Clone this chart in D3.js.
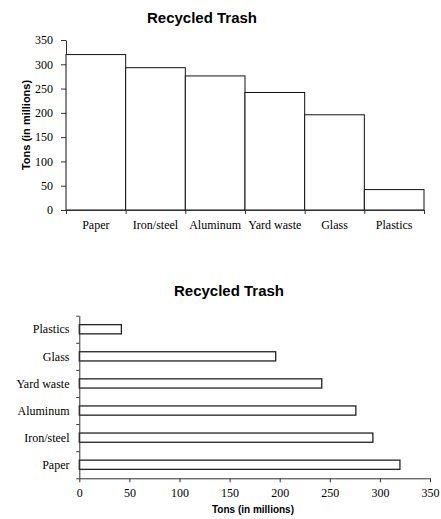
<!DOCTYPE html>
<html>
<head>
<meta charset="utf-8">
<script src="https://cdn.jsdelivr.net/npm/d3@7"></script>
<style>
  body { margin: 0; background: #fff; }
  svg { display: block; }
  .tick text { font-family: "Liberation Serif", "Times New Roman", serif; font-size: 12px; fill: #000; }
  .title { font-family: "Liberation Sans", Arial, sans-serif; font-weight: bold; font-size: 15px; }
  .axis-title { font-family: "Liberation Sans", Arial, sans-serif; font-weight: bold; }
</style>
</head>
<body>
<svg width="441" height="519"></svg>
<script>
var categories = ["Paper", "Iron/steel", "Aluminum", "Yard waste", "Glass", "Plastics"];
var tons = [320, 293, 276, 242, 196, 42];
var valueTicks = [0, 50, 100, 150, 200, 250, 300, 350];

var svg = d3.select("svg");
var data = categories.map(function (c, i) { return { name: c, value: tons[i] }; });

// ---- top: vertical bars ----
var x1 = d3.scaleBand().domain(categories).range([66, 424]).padding(0);
var y1 = d3.scaleLinear().domain([0, 350]).range([210, 40]);

svg.append("text").attr("class", "title")
    .attr("x", 202).attr("y", 23).attr("text-anchor", "middle")
    .text("Recycled Trash");

svg.append("g")
    .attr("transform", "translate(66,0)")
    .call(d3.axisLeft(y1).tickValues(valueTicks).tickSize(5).tickPadding(8).tickSizeOuter(0))
    .call(function (g) { g.selectAll("path, line").attr("stroke", "#333"); });

svg.append("g").selectAll("rect")
    .data(data)
    .enter().append("rect")
    .attr("x", function (d) { return x1(d.name); })
    .attr("y", function (d) { return y1(d.value); })
    .attr("width", x1.bandwidth())
    .attr("height", function (d) { return y1(0) - y1(d.value); })
    .attr("fill", "#fff")
    .attr("stroke", "#111")
    .attr("stroke-width", 1);

// x axis with ticks at band boundaries
var xb = d3.scaleLinear().domain([0, categories.length]).range(x1.range());
svg.append("g")
    .attr("transform", "translate(0,210)")
    .call(d3.axisBottom(xb).ticks(categories.length).tickFormat("").tickSize(4).tickSizeOuter(0))
    .call(function (g) { g.selectAll("path, line").attr("stroke", "#333"); });

svg.append("g").selectAll("text")
    .data(categories)
    .enter().append("text")
    .attr("x", function (d) { return x1(d) + x1.bandwidth() / 2; })
    .attr("y", 229)
    .attr("text-anchor", "middle")
    .style("font-family", "'Liberation Serif', 'Times New Roman', serif")
    .style("font-size", "12px")
    .text(function (d) { return d; });

svg.append("text").attr("class", "axis-title")
    .attr("transform", "translate(30,125) rotate(-90)")
    .attr("text-anchor", "middle")
    .style("font-size", "11px")
    .text("Tons (in millions)");

// ---- bottom: horizontal bars ----
var x2 = d3.scaleLinear().domain([0, 350]).range([79.3, 430]);
var y2 = d3.scaleBand().domain(categories.slice().reverse()).range([315.7, 478.3])
    .paddingInner(0.66).paddingOuter(0.33);

svg.append("text").attr("class", "title")
    .attr("x", 229).attr("y", 296).attr("text-anchor", "middle")
    .text("Recycled Trash");

svg.append("g").selectAll("rect")
    .data(data)
    .enter().append("rect")
    .attr("x", x2(0))
    .attr("y", function (d) { return y2(d.name); })
    .attr("width", function (d) { return x2(d.value) - x2(0); })
    .attr("height", y2.bandwidth())
    .attr("fill", "#fff")
    .attr("stroke", "#222")
    .attr("stroke-width", 1.3);

var yb = d3.scaleLinear().domain([0, categories.length]).range(y2.range());
svg.append("g")
    .attr("transform", "translate(79.3,0)")
    .call(d3.axisLeft(yb).ticks(categories.length).tickFormat("").tickSize(3).tickSizeOuter(0))
    .call(function (g) { g.selectAll("path, line").attr("stroke", "#333"); });

svg.append("g").selectAll("text")
    .data(categories)
    .enter().append("text")
    .attr("x", 69.5)
    .attr("y", function (d) { return y2(d) + y2.bandwidth() / 2; })
    .attr("dy", "0.35em")
    .attr("text-anchor", "end")
    .style("font-family", "'Liberation Serif', 'Times New Roman', serif")
    .style("font-size", "12px")
    .text(function (d) { return d; });

svg.append("g")
    .attr("transform", "translate(0,478.3)")
    .call(d3.axisBottom(x2).tickValues(valueTicks).tickSize(4).tickPadding(6).tickSizeOuter(0))
    .call(function (g) { g.selectAll("path, line").attr("stroke", "#333"); });

svg.append("text").attr("class", "axis-title")
    .attr("x", 253).attr("y", 513).attr("text-anchor", "middle")
    .style("font-size", "10px")
    .text("Tons (in millions)");
</script>
</body>
</html>
